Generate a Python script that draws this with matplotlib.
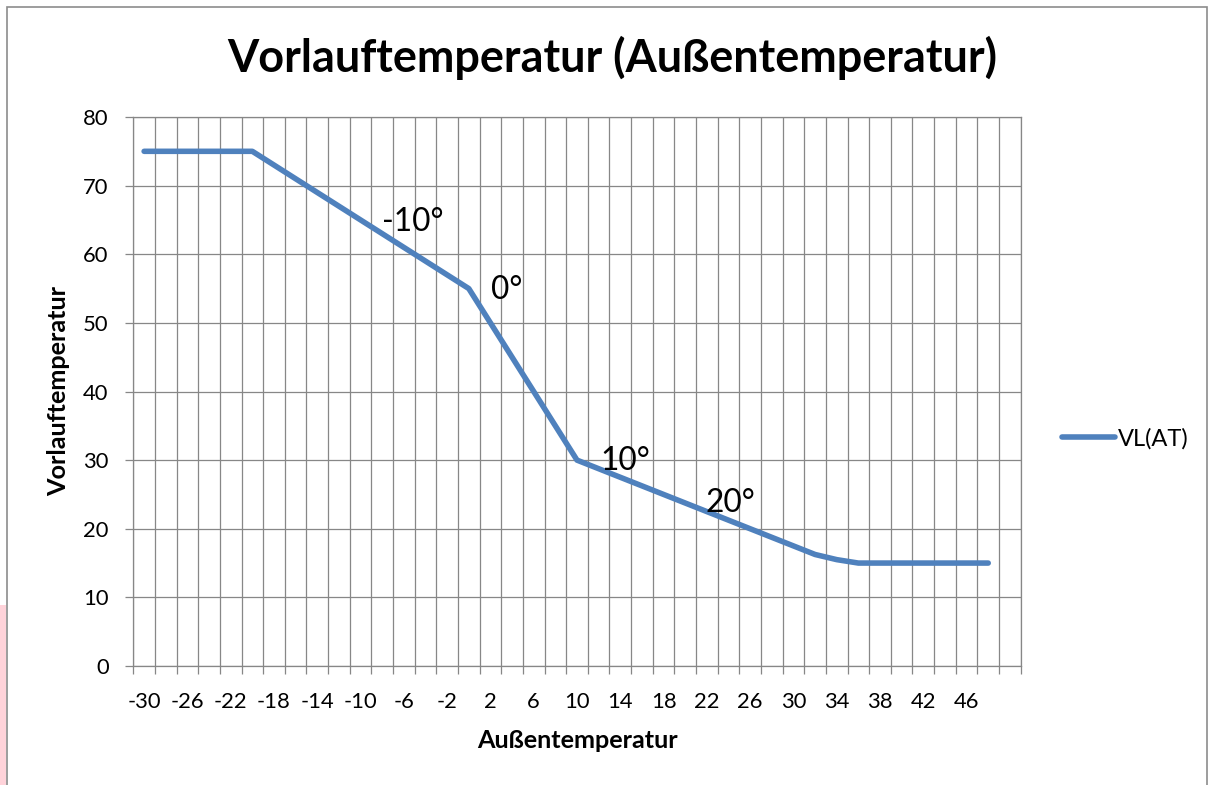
import numpy as np
import matplotlib
matplotlib.use("Agg")
import matplotlib.pyplot as plt
from matplotlib.patches import Rectangle
from matplotlib.lines import Line2D

plt.rcParams['font.family'] = ['Lato', 'DejaVu Sans']

# ---- data ----
categories = [-30, -28, -26, -24, -22, -20, -18, -16, -14, -12,
              -10, -8, -6, -4, -2, 0, 2, 4, 6, 8,
              10, 12, 14, 16, 18, 20, 22, 24, 26, 28,
              30, 32, 34, 36, 38, 40, 42, 44, 46, 48, 50]
vl_values = [75, 75, 75, 75, 75, 75, 73, 71, 69, 67,
             65, 63, 61, 59, 57, 55, 50, 45, 40, 35,
             30, 28.75, 27.5, 26.25, 25, 23.75, 22.5, 21.25, 20, 18.75,
             17.5, 16.25, 15.5, 15, 15, 15, 15, 15, 15, 15, None]
series_name = "VL(AT)"
annot_texts = ["-10°", "0°", "10°", "20°"]
annot_cat = [12.4, 16.75, 22.25, 27.1]   # category index positions
annot_val = [64.7, 54.8, 29.9, 23.7]

title = "Vorlauftemperatur (Außentemperatur)"
xlabel = "Außentemperatur"
ylabel = "Vorlauftemperatur"

# ---- figure ----
W, H = 1214, 785
fig = plt.figure(figsize=(W / 100, H / 100), dpi=100)
fig.patch.set_facecolor("white")

# chart border and pink artifact strip
fig.add_artist(Rectangle((7 / W, -0.05), 1200 / W, 1.05 - 7 / H, transform=fig.transFigure,
                         fill=False, edgecolor="#8c8c8c", linewidth=1.2))
fig.add_artist(Rectangle((0, 0), 6 / W, (785 - 605) / H, transform=fig.transFigure,
                         facecolor="#ffd3da", edgecolor="none"))

left, right, top, bottom = 133.3, 1020.7, 117, 666
ax = fig.add_axes([left / W, (H - bottom) / H, (right - left) / W, (bottom - top) / H])

grid_c = "#878787"
n = len(categories)
idx = np.arange(n)
vals = np.array([np.nan if v is None else v for v in vl_values], dtype=float)
ax.plot(idx, vals, color="#4F81BD", linewidth=4.0, solid_capstyle="round",
        solid_joinstyle="round", label=series_name, zorder=3)

ax.set_xlim(-0.5, n - 0.5)
ax.set_ylim(0, 80)

# x: category axis with boundaries as gridlines
ax.set_xticks(idx[::2])
ax.set_xticklabels([str(c) for c in categories[::2][:-1]] + [""])
ax.set_xticks(np.arange(n + 1) - 0.5, minor=True)
ax.tick_params(axis="x", which="major", length=0, pad=19, labelsize=15.8, colors="black")
ax.tick_params(axis="x", which="minor", length=5.8, width=0.9, color=grid_c, direction="out")
ax.xaxis.grid(True, which="minor", color=grid_c, linewidth=0.9)

ax.set_yticks(np.arange(0, 81, 10))
ax.tick_params(axis="y", which="major", length=5.8, width=0.9, color=grid_c, pad=12,
               labelsize=15.8, direction="out")
ax.yaxis.grid(True, which="major", color=grid_c, linewidth=0.9)
ax.set_axisbelow(True)

for s in ["top", "right", "left", "bottom"]:
    ax.spines[s].set_color(grid_c)
    ax.spines[s].set_linewidth(0.9)

for t, xc, yv in zip(annot_texts, annot_cat, annot_val):
    ax.text(xc, yv, t, fontsize=22.8, ha="center", va="center", color="black", zorder=4)

fig.text(612 / W, 1 - 58 / H, title, fontsize=32.4, fontweight="bold", ha="center", va="center")
fig.text(577 / W, 1 - 741 / H, xlabel, fontsize=18.2, fontweight="bold", ha="center", va="center")
fig.text(59 / W, 1 - 391 / H, ylabel, fontsize=18.2, fontweight="bold", ha="center", va="center",
         rotation=90)

leg = fig.legend(handles=[Line2D([], [], color="#4F81BD", linewidth=4.0, solid_capstyle="round")],
                 labels=[series_name], loc="center left",
                 bbox_to_anchor=(1062 / W, 1 - 439 / H), bbox_transform=fig.transFigure,
                 frameon=False, fontsize=17, handlelength=2.25, handletextpad=0.1,
                 borderpad=0, borderaxespad=0)

fig.savefig("out.png", dpi=100)
